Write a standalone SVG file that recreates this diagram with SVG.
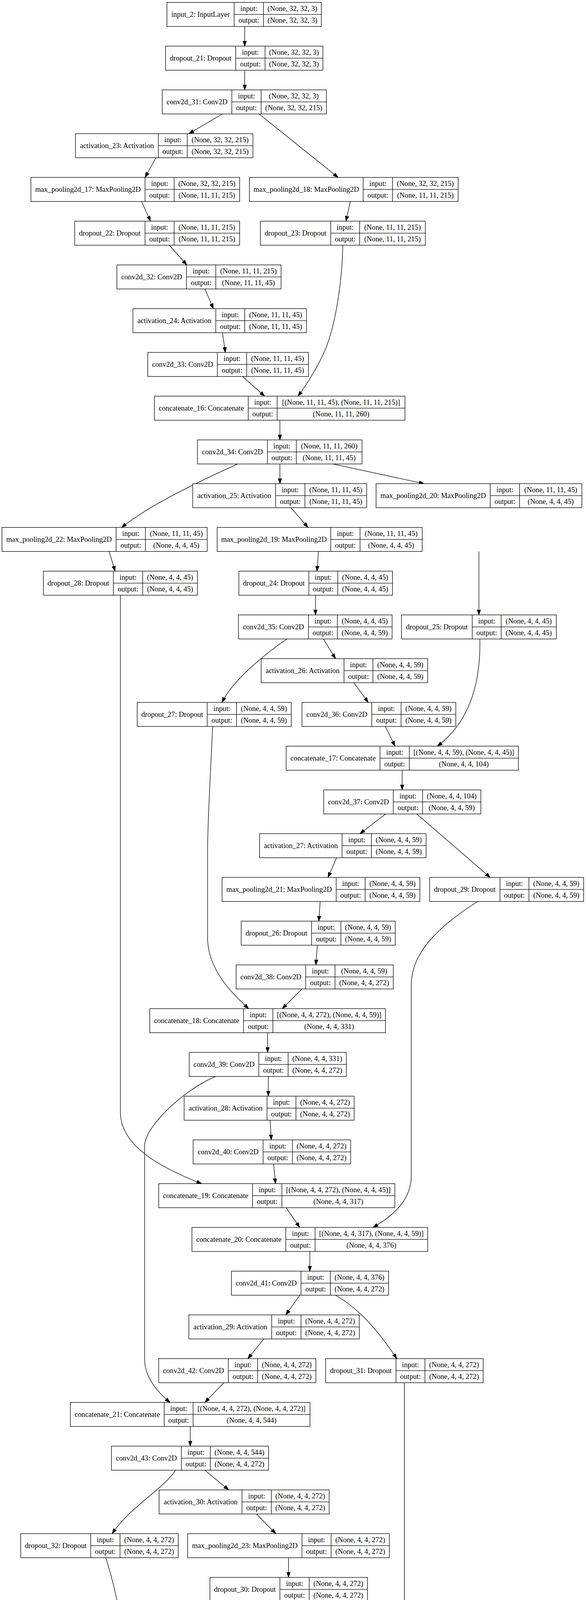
<svg xmlns="http://www.w3.org/2000/svg" width="1499" height="6347" viewBox="0 0 1499 6347">
<defs>
<marker id="ah" markerUnits="userSpaceOnUse" markerWidth="14" markerHeight="10" viewBox="0 0 14 10" refX="13.3" refY="5" orient="auto"><path d="M0,0.33 L13.3,5 L0,9.67 Z" fill="#000" stroke="#000" stroke-width="1"/></marker>
</defs>
<style>
.n rect{fill:#fff;stroke:#000;stroke-width:1.33}
.n path{fill:none;stroke:#000;stroke-width:1.33}
text{font-family:"Liberation Serif","Times New Roman",serif;font-size:18.67px;text-anchor:middle;fill:#000}
.e path{fill:none;stroke:#000;stroke-width:1.33;marker-end:url(#ah)}
</style>
<rect width="1499" height="6347" fill="#fff"/>
<g id="edges" class="e">
<path d="M626,67.7V118.2"/>
<path d="M626,179.7V230.2"/>
<path d="M569,291.7L483,342.2"/>
<path d="M662.5,291.7L865,454.2"/>
<path d="M399,403.7L371,454.2"/>
<path d="M362,515.7L385,566.2"/>
<path d="M896,515.7L885,566.2"/>
<path d="M433,627.7L478,678.2"/>
<path d="M524,739.7L546,790.2"/>
<path d="M569,851.7L576.5,902.2"/>
<path d="M620.5,963.7L677,1014.2"/>
<path d="M877,627.7C875,720 860,820 836,885C821.6,924 785,985 762,1014.2"/>
<path d="M716,1075.7V1126.2"/>
<path d="M608,1187.7C550,1215 400,1280 311,1350.2"/>
<path d="M716,1187.7V1238.2"/>
<path d="M851,1187.7L1085,1238.2"/>
<path d="M744,1299.7L788,1350.2"/>
<path d="M1225,1411.7V1574.2"/>
<path d="M279,1411.7L294.5,1462.2"/>
<path d="M814.5,1411.7L811,1462.2"/>
<path d="M807,1523.7V1574.2"/>
<path d="M308,1523.7V2850C310,2930 400,2985 516,3030.2"/>
<path d="M734,1635.7C690,1665 595,1740 568,1798.2"/>
<path d="M827,1635.7L858.5,1686.2"/>
<path d="M905,1747.7L942,1798.2"/>
<path d="M1227.5,1635.7C1230,1750 1200,1850 1118.5,1910.2"/>
<path d="M985.7,1859.7L1010.5,1910.2"/>
<path d="M1028.7,1971.7V2022.2"/>
<path d="M544,1859.7C538,1990 531,2100 531,2180V2400C531,2480 590,2540 636,2582.2"/>
<path d="M986.6,2083.7L920.6,2134.2"/>
<path d="M1066,2083.7L1254,2246.2"/>
<path d="M861,2195.7L839,2246.2"/>
<path d="M819,2307.7L815.5,2358.2"/>
<path d="M811.7,2419.7L808,2470.2"/>
<path d="M772.5,2531.7L722,2582.2"/>
<path d="M1222,2307.7C1140,2360 1052,2430 1052,2520V3010C1052,3070 1010,3110 954,3142.2"/>
<path d="M684.5,2643.7V2694.2"/>
<path d="M551.6,2755.7C470,2790 375,2880 370,2930V3480C370,3530 410,3570 435,3590.2"/>
<path d="M686.4,2755.7V2806.2"/>
<path d="M691,2867.7L694,2918.2"/>
<path d="M700,2979.7L704.6,3030.2"/>
<path d="M732,3091.7L766.7,3142.2"/>
<path d="M792.5,3203.7V3254.2"/>
<path d="M767,3315.7L731,3366.2"/>
<path d="M858.5,3315.7C900,3340 950,3380 1015,3478.2"/>
<path d="M675,3427.7L634,3478.2"/>
<path d="M572.7,3539.7L524,3590.2"/>
<path d="M486.6,3651.7V3702.2"/>
<path d="M1034.4,3539.7V4100C1034.4,4170 960,4220 865,4262.2"/>
<path d="M449.3,3763.7C420,3810 330,3860 287,3926.2"/>
<path d="M524,3763.7L585,3814.2"/>
<path d="M656,3875.7L705.5,3926.2"/>
<path d="M738,3987.7V4038.2"/>
<path d="M738,4099.7V4150.2"/>
<path d="M738,4211.7V4262.2"/>
<path d="M270.6,3987.7C300,4080 323,4200 324,4300V4540C326,4620 385,4670 416,4710.2"/>
<path d="M726.6,4323.7L711,4374.2"/>
<path d="M677,4435.7L645,4486.2"/>
<path d="M612,4547.7L600,4598.2"/>
<path d="M554.5,4659.7L496,4710.2"/>
<path d="M457,4771.7V4822.2"/>
<path d="M457,4883.7V4934.2"/>
<path d="M457,4995.7V5046.2"/>
<path d="M457,5107.7V5158.2"/>
<path d="M457,5219.7V5270.2"/>
<path d="M457,5331.7V5382.2"/>
<path d="M457,5443.7V5494.2"/>
<path d="M457,5555.7V5606.2"/>
<path d="M457,5667.7V5718.2"/>
<path d="M457,5779.7V5830.2"/>
<path d="M457,5891.7V5942.2"/>
<path d="M457,6003.7V6054.2"/>
<path d="M457,6115.7V6166.2"/>
<path d="M457,6227.7V6278.2"/>
</g>
<g id="input_2" class="n" transform="translate(427,6.2)"><rect width="395" height="61.5"/><path d="M172,0V61.5M247,0V61.5M172,30.75H395"/><text x="86" y="36.5">input_2: InputLayer</text><text x="209.5" y="21.5">input:</text><text x="209.5" y="52">output:</text><text x="321" y="21.5">(None, 32, 32, 3)</text><text x="321" y="52">(None, 32, 32, 3)</text></g>
<g id="dropout_21" class="n" transform="translate(423.5,118.2)"><rect width="402.5" height="61.5"/><path d="M179.5,0V61.5M254.5,0V61.5M179.5,30.75H402.5"/><text x="89.75" y="36.5">dropout_21: Dropout</text><text x="217" y="21.5">input:</text><text x="217" y="52">output:</text><text x="328.5" y="21.5">(None, 32, 32, 3)</text><text x="328.5" y="52">(None, 32, 32, 3)</text></g>
<g id="conv2d_31" class="n" transform="translate(415,230.2)"><rect width="420" height="61.5"/><path d="M178,0V61.5M253,0V61.5M178,30.75H420"/><text x="89" y="36.5">conv2d_31: Conv2D</text><text x="215.5" y="21.5">input:</text><text x="215.5" y="52">output:</text><text x="336.5" y="21.5">(None, 32, 32, 3)</text><text x="336.5" y="52">(None, 32, 32, 215)</text></g>
<g id="activation_23" class="n" transform="translate(193,342.2)"><rect width="454" height="61.5"/><path d="M212,0V61.5M286,0V61.5M212,30.75H454"/><text x="106" y="36.5">activation_23: Activation</text><text x="249" y="21.5">input:</text><text x="249" y="52">output:</text><text x="370" y="21.5">(None, 32, 32, 215)</text><text x="370" y="52">(None, 32, 32, 215)</text></g>
<g id="max_pooling2d_17" class="n" transform="translate(79,454.2)"><rect width="534" height="61.5"/><path d="M292,0V61.5M366.5,0V61.5M292,30.75H534"/><text x="146" y="36.5">max_pooling2d_17: MaxPooling2D</text><text x="329.25" y="21.5">input:</text><text x="329.25" y="52">output:</text><text x="450.25" y="21.5">(None, 32, 32, 215)</text><text x="450.25" y="52">(None, 11, 11, 215)</text></g>
<g id="max_pooling2d_18" class="n" transform="translate(638,454.2)"><rect width="534" height="61.5"/><path d="M291,0V61.5M366,0V61.5M291,30.75H534"/><text x="145.5" y="36.5">max_pooling2d_18: MaxPooling2D</text><text x="328.5" y="21.5">input:</text><text x="328.5" y="52">output:</text><text x="450" y="21.5">(None, 32, 32, 215)</text><text x="450" y="52">(None, 11, 11, 215)</text></g>
<g id="dropout_22" class="n" transform="translate(191,566.2)"><rect width="422" height="61.5"/><path d="M180,0V61.5M254.5,0V61.5M180,30.75H422"/><text x="90" y="36.5">dropout_22: Dropout</text><text x="217.25" y="21.5">input:</text><text x="217.25" y="52">output:</text><text x="338.25" y="21.5">(None, 11, 11, 215)</text><text x="338.25" y="52">(None, 11, 11, 215)</text></g>
<g id="dropout_23" class="n" transform="translate(666,566.2)"><rect width="422" height="61.5"/><path d="M180,0V61.5M254,0V61.5M180,30.75H422"/><text x="90" y="36.5">dropout_23: Dropout</text><text x="217" y="21.5">input:</text><text x="217" y="52">output:</text><text x="338" y="21.5">(None, 11, 11, 215)</text><text x="338" y="52">(None, 11, 11, 215)</text></g>
<g id="conv2d_32" class="n" transform="translate(299,678.2)"><rect width="420" height="61.5"/><path d="M178,0V61.5M253,0V61.5M178,30.75H420"/><text x="89" y="36.5">conv2d_32: Conv2D</text><text x="215.5" y="21.5">input:</text><text x="215.5" y="52">output:</text><text x="336.5" y="21.5">(None, 11, 11, 215)</text><text x="336.5" y="52">(None, 11, 11, 45)</text></g>
<g id="activation_24" class="n" transform="translate(340,790.2)"><rect width="444" height="61.5"/><path d="M212,0V61.5M286,0V61.5M212,30.75H444"/><text x="106" y="36.5">activation_24: Activation</text><text x="249" y="21.5">input:</text><text x="249" y="52">output:</text><text x="365" y="21.5">(None, 11, 11, 45)</text><text x="365" y="52">(None, 11, 11, 45)</text></g>
<g id="conv2d_33" class="n" transform="translate(378,902.2)"><rect width="411" height="61.5"/><path d="M178,0V61.5M253,0V61.5M178,30.75H411"/><text x="89" y="36.5">conv2d_33: Conv2D</text><text x="215.5" y="21.5">input:</text><text x="215.5" y="52">output:</text><text x="332" y="21.5">(None, 11, 11, 45)</text><text x="332" y="52">(None, 11, 11, 45)</text></g>
<g id="concatenate_16" class="n" transform="translate(395,1014.2)"><rect width="641" height="61.5"/><path d="M240,0V61.5M314,0V61.5M240,30.75H641"/><text x="120" y="36.5">concatenate_16: Concatenate</text><text x="277" y="21.5">input:</text><text x="277" y="52">output:</text><text x="477.5" y="21.5">[(None, 11, 11, 45), (None, 11, 11, 215)]</text><text x="477.5" y="52">(None, 11, 11, 260)</text></g>
<g id="conv2d_34" class="n" transform="translate(505,1126.2)"><rect width="421" height="61.5"/><path d="M179,0V61.5M253,0V61.5M179,30.75H421"/><text x="89.5" y="36.5">conv2d_34: Conv2D</text><text x="216" y="21.5">input:</text><text x="216" y="52">output:</text><text x="337" y="21.5">(None, 11, 11, 260)</text><text x="337" y="52">(None, 11, 11, 45)</text></g>
<g id="activation_25" class="n" transform="translate(493,1238.2)"><rect width="445" height="61.5"/><path d="M212,0V61.5M287,0V61.5M212,30.75H445"/><text x="106" y="36.5">activation_25: Activation</text><text x="249.5" y="21.5">input:</text><text x="249.5" y="52">output:</text><text x="366" y="21.5">(None, 11, 11, 45)</text><text x="366" y="52">(None, 11, 11, 45)</text></g>
<g id="max_pooling2d_20" class="n" transform="translate(962,1238.2)"><rect width="526.5" height="61.5"/><path d="M292,0V61.5M367,0V61.5M292,30.75H526.5"/><text x="146" y="36.5">max_pooling2d_20: MaxPooling2D</text><text x="329.5" y="21.5">input:</text><text x="329.5" y="52">output:</text><text x="446.75" y="21.5">(None, 11, 11, 45)</text><text x="446.75" y="52">(None, 4, 4, 45)</text></g>
<g id="max_pooling2d_22" class="n" transform="translate(5,1350.2)"><rect width="525" height="61.5"/><path d="M292,0V61.5M367,0V61.5M292,30.75H525"/><text x="146" y="36.5">max_pooling2d_22: MaxPooling2D</text><text x="329.5" y="21.5">input:</text><text x="329.5" y="52">output:</text><text x="446" y="21.5">(None, 11, 11, 45)</text><text x="446" y="52">(None, 4, 4, 45)</text></g>
<g id="max_pooling2d_19" class="n" transform="translate(555.5,1350.2)"><rect width="524.5" height="61.5"/><path d="M290.5,0V61.5M365.5,0V61.5M290.5,30.75H524.5"/><text x="145.25" y="36.5">max_pooling2d_19: MaxPooling2D</text><text x="328" y="21.5">input:</text><text x="328" y="52">output:</text><text x="445" y="21.5">(None, 11, 11, 45)</text><text x="445" y="52">(None, 4, 4, 45)</text></g>
<g id="dropout_28" class="n" transform="translate(111,1462.2)"><rect width="394" height="61.5"/><path d="M179,0V61.5M254,0V61.5M179,30.75H394"/><text x="89.5" y="36.5">dropout_28: Dropout</text><text x="216.5" y="21.5">input:</text><text x="216.5" y="52">output:</text><text x="324" y="21.5">(None, 4, 4, 45)</text><text x="324" y="52">(None, 4, 4, 45)</text></g>
<g id="dropout_24" class="n" transform="translate(611,1462.2)"><rect width="393" height="61.5"/><path d="M179,0V61.5M253,0V61.5M179,30.75H393"/><text x="89.5" y="36.5">dropout_24: Dropout</text><text x="216" y="21.5">input:</text><text x="216" y="52">output:</text><text x="323" y="21.5">(None, 4, 4, 45)</text><text x="323" y="52">(None, 4, 4, 45)</text></g>
<g id="conv2d_35" class="n" transform="translate(610,1574.2)"><rect width="393" height="61.5"/><path d="M179,0V61.5M253,0V61.5M179,30.75H393"/><text x="89.5" y="36.5">conv2d_35: Conv2D</text><text x="216" y="21.5">input:</text><text x="216" y="52">output:</text><text x="323" y="21.5">(None, 4, 4, 45)</text><text x="323" y="52">(None, 4, 4, 59)</text></g>
<g id="dropout_25" class="n" transform="translate(1027,1574.2)"><rect width="396" height="61.5"/><path d="M181,0V61.5M255,0V61.5M181,30.75H396"/><text x="90.5" y="36.5">dropout_25: Dropout</text><text x="218" y="21.5">input:</text><text x="218" y="52">output:</text><text x="325.5" y="21.5">(None, 4, 4, 45)</text><text x="325.5" y="52">(None, 4, 4, 45)</text></g>
<g id="activation_26" class="n" transform="translate(668,1686.2)"><rect width="426" height="61.5"/><path d="M212,0V61.5M286,0V61.5M212,30.75H426"/><text x="106" y="36.5">activation_26: Activation</text><text x="249" y="21.5">input:</text><text x="249" y="52">output:</text><text x="356" y="21.5">(None, 4, 4, 59)</text><text x="356" y="52">(None, 4, 4, 59)</text></g>
<g id="dropout_27" class="n" transform="translate(351,1798.2)"><rect width="394" height="61.5"/><path d="M179,0V61.5M254,0V61.5M179,30.75H394"/><text x="89.5" y="36.5">dropout_27: Dropout</text><text x="216.5" y="21.5">input:</text><text x="216.5" y="52">output:</text><text x="324" y="21.5">(None, 4, 4, 59)</text><text x="324" y="52">(None, 4, 4, 59)</text></g>
<g id="conv2d_36" class="n" transform="translate(772.5,1798.2)"><rect width="393.5" height="61.5"/><path d="M178.5,0V61.5M253.5,0V61.5M178.5,30.75H393.5"/><text x="89.25" y="36.5">conv2d_36: Conv2D</text><text x="216" y="21.5">input:</text><text x="216" y="52">output:</text><text x="323.5" y="21.5">(None, 4, 4, 59)</text><text x="323.5" y="52">(None, 4, 4, 59)</text></g>
<g id="concatenate_17" class="n" transform="translate(732,1910.2)"><rect width="594" height="61.5"/><path d="M240,0V61.5M315,0V61.5M240,30.75H594"/><text x="120" y="36.5">concatenate_17: Concatenate</text><text x="277.5" y="21.5">input:</text><text x="277.5" y="52">output:</text><text x="454.5" y="21.5">[(None, 4, 4, 59), (None, 4, 4, 45)]</text><text x="454.5" y="52">(None, 4, 4, 104)</text></g>
<g id="conv2d_37" class="n" transform="translate(828,2022.2)"><rect width="402" height="61.5"/><path d="M178,0V61.5M253,0V61.5M178,30.75H402"/><text x="89" y="36.5">conv2d_37: Conv2D</text><text x="215.5" y="21.5">input:</text><text x="215.5" y="52">output:</text><text x="327.5" y="21.5">(None, 4, 4, 104)</text><text x="327.5" y="52">(None, 4, 4, 59)</text></g>
<g id="activation_27" class="n" transform="translate(664,2134.2)"><rect width="426" height="61.5"/><path d="M211,0V61.5M286,0V61.5M211,30.75H426"/><text x="105.5" y="36.5">activation_27: Activation</text><text x="248.5" y="21.5">input:</text><text x="248.5" y="52">output:</text><text x="356" y="21.5">(None, 4, 4, 59)</text><text x="356" y="52">(None, 4, 4, 59)</text></g>
<g id="max_pooling2d_21" class="n" transform="translate(568,2246.2)"><rect width="506" height="61.5"/><path d="M292,0V61.5M366,0V61.5M292,30.75H506"/><text x="146" y="36.5">max_pooling2d_21: MaxPooling2D</text><text x="329" y="21.5">input:</text><text x="329" y="52">output:</text><text x="436" y="21.5">(None, 4, 4, 59)</text><text x="436" y="52">(None, 4, 4, 59)</text></g>
<g id="dropout_29" class="n" transform="translate(1099,2246.2)"><rect width="394" height="61.5"/><path d="M180,0V61.5M254,0V61.5M180,30.75H394"/><text x="90" y="36.5">dropout_29: Dropout</text><text x="217" y="21.5">input:</text><text x="217" y="52">output:</text><text x="324" y="21.5">(None, 4, 4, 59)</text><text x="324" y="52">(None, 4, 4, 59)</text></g>
<g id="dropout_26" class="n" transform="translate(617,2358.2)"><rect width="394" height="61.5"/><path d="M180,0V61.5M255,0V61.5M180,30.75H394"/><text x="90" y="36.5">dropout_26: Dropout</text><text x="217.5" y="21.5">input:</text><text x="217.5" y="52">output:</text><text x="324.5" y="21.5">(None, 4, 4, 59)</text><text x="324.5" y="52">(None, 4, 4, 59)</text></g>
<g id="conv2d_38" class="n" transform="translate(604,2470.2)"><rect width="402" height="61.5"/><path d="M178,0V61.5M253,0V61.5M178,30.75H402"/><text x="89" y="36.5">conv2d_38: Conv2D</text><text x="215.5" y="21.5">input:</text><text x="215.5" y="52">output:</text><text x="327.5" y="21.5">(None, 4, 4, 59)</text><text x="327.5" y="52">(None, 4, 4, 272)</text></g>
<g id="concatenate_18" class="n" transform="translate(383,2582.2)"><rect width="603" height="61.5"/><path d="M240,0V61.5M315,0V61.5M240,30.75H603"/><text x="120" y="36.5">concatenate_18: Concatenate</text><text x="277.5" y="21.5">input:</text><text x="277.5" y="52">output:</text><text x="459" y="21.5">[(None, 4, 4, 272), (None, 4, 4, 59)]</text><text x="459" y="52">(None, 4, 4, 331)</text></g>
<g id="conv2d_39" class="n" transform="translate(484,2694.2)"><rect width="402" height="61.5"/><path d="M178,0V61.5M253,0V61.5M178,30.75H402"/><text x="89" y="36.5">conv2d_39: Conv2D</text><text x="215.5" y="21.5">input:</text><text x="215.5" y="52">output:</text><text x="327.5" y="21.5">(None, 4, 4, 331)</text><text x="327.5" y="52">(None, 4, 4, 272)</text></g>
<g id="activation_28" class="n" transform="translate(471,2806.2)"><rect width="435" height="61.5"/><path d="M212,0V61.5M286,0V61.5M212,30.75H435"/><text x="106" y="36.5">activation_28: Activation</text><text x="249" y="21.5">input:</text><text x="249" y="52">output:</text><text x="360.5" y="21.5">(None, 4, 4, 272)</text><text x="360.5" y="52">(None, 4, 4, 272)</text></g>
<g id="conv2d_40" class="n" transform="translate(494,2918.2)"><rect width="403" height="61.5"/><path d="M179,0V61.5M254,0V61.5M179,30.75H403"/><text x="89.5" y="36.5">conv2d_40: Conv2D</text><text x="216.5" y="21.5">input:</text><text x="216.5" y="52">output:</text><text x="328.5" y="21.5">(None, 4, 4, 272)</text><text x="328.5" y="52">(None, 4, 4, 272)</text></g>
<g id="concatenate_19" class="n" transform="translate(406,3030.2)"><rect width="604" height="61.5"/><path d="M240,0V61.5M315,0V61.5M240,30.75H604"/><text x="120" y="36.5">concatenate_19: Concatenate</text><text x="277.5" y="21.5">input:</text><text x="277.5" y="52">output:</text><text x="459.5" y="21.5">[(None, 4, 4, 272), (None, 4, 4, 45)]</text><text x="459.5" y="52">(None, 4, 4, 317)</text></g>
<g id="concatenate_20" class="n" transform="translate(491,3142.2)"><rect width="603" height="61.5"/><path d="M240,0V61.5M315,0V61.5M240,30.75H603"/><text x="120" y="36.5">concatenate_20: Concatenate</text><text x="277.5" y="21.5">input:</text><text x="277.5" y="52">output:</text><text x="459" y="21.5">[(None, 4, 4, 317), (None, 4, 4, 59)]</text><text x="459" y="52">(None, 4, 4, 376)</text></g>
<g id="conv2d_41" class="n" transform="translate(592,3254.2)"><rect width="402" height="61.5"/><path d="M178,0V61.5M253,0V61.5M178,30.75H402"/><text x="89" y="36.5">conv2d_41: Conv2D</text><text x="215.5" y="21.5">input:</text><text x="215.5" y="52">output:</text><text x="327.5" y="21.5">(None, 4, 4, 376)</text><text x="327.5" y="52">(None, 4, 4, 272)</text></g>
<g id="activation_29" class="n" transform="translate(483,3366.2)"><rect width="436" height="61.5"/><path d="M212,0V61.5M287,0V61.5M212,30.75H436"/><text x="106" y="36.5">activation_29: Activation</text><text x="249.5" y="21.5">input:</text><text x="249.5" y="52">output:</text><text x="361.5" y="21.5">(None, 4, 4, 272)</text><text x="361.5" y="52">(None, 4, 4, 272)</text></g>
<g id="conv2d_42" class="n" transform="translate(406,3478.2)"><rect width="402" height="61.5"/><path d="M178,0V61.5M253,0V61.5M178,30.75H402"/><text x="89" y="36.5">conv2d_42: Conv2D</text><text x="215.5" y="21.5">input:</text><text x="215.5" y="52">output:</text><text x="327.5" y="21.5">(None, 4, 4, 272)</text><text x="327.5" y="52">(None, 4, 4, 272)</text></g>
<g id="dropout_31" class="n" transform="translate(833,3478.2)"><rect width="403" height="61.5"/><path d="M180,0V61.5M254,0V61.5M180,30.75H403"/><text x="90" y="36.5">dropout_31: Dropout</text><text x="217" y="21.5">input:</text><text x="217" y="52">output:</text><text x="328.5" y="21.5">(None, 4, 4, 272)</text><text x="328.5" y="52">(None, 4, 4, 272)</text></g>
<g id="concatenate_21" class="n" transform="translate(180,3590.2)"><rect width="613" height="61.5"/><path d="M240,0V61.5M314,0V61.5M240,30.75H613"/><text x="120" y="36.5">concatenate_21: Concatenate</text><text x="277" y="21.5">input:</text><text x="277" y="52">output:</text><text x="463.5" y="21.5">[(None, 4, 4, 272), (None, 4, 4, 272)]</text><text x="463.5" y="52">(None, 4, 4, 544)</text></g>
<g id="conv2d_43" class="n" transform="translate(285,3702.2)"><rect width="402" height="61.5"/><path d="M179,0V61.5M253,0V61.5M179,30.75H402"/><text x="89.5" y="36.5">conv2d_43: Conv2D</text><text x="216" y="21.5">input:</text><text x="216" y="52">output:</text><text x="327.5" y="21.5">(None, 4, 4, 544)</text><text x="327.5" y="52">(None, 4, 4, 272)</text></g>
<g id="activation_30" class="n" transform="translate(407,3814.2)"><rect width="435" height="61.5"/><path d="M212,0V61.5M287,0V61.5M212,30.75H435"/><text x="106" y="36.5">activation_30: Activation</text><text x="249.5" y="21.5">input:</text><text x="249.5" y="52">output:</text><text x="361" y="21.5">(None, 4, 4, 272)</text><text x="361" y="52">(None, 4, 4, 272)</text></g>
<g id="dropout_32" class="n" transform="translate(53,3926.2)"><rect width="403" height="61.5"/><path d="M179,0V61.5M254,0V61.5M179,30.75H403"/><text x="89.5" y="36.5">dropout_32: Dropout</text><text x="216.5" y="21.5">input:</text><text x="216.5" y="52">output:</text><text x="328.5" y="21.5">(None, 4, 4, 272)</text><text x="328.5" y="52">(None, 4, 4, 272)</text></g>
<g id="max_pooling2d_23" class="n" transform="translate(480,3926.2)"><rect width="516" height="61.5"/><path d="M292.5,0V61.5M367,0V61.5M292.5,30.75H516"/><text x="146.25" y="36.5">max_pooling2d_23: MaxPooling2D</text><text x="329.75" y="21.5">input:</text><text x="329.75" y="52">output:</text><text x="441.5" y="21.5">(None, 4, 4, 272)</text><text x="441.5" y="52">(None, 4, 4, 272)</text></g>
<g id="dropout_30" class="n" transform="translate(537,4038.2)"><rect width="403" height="61.5"/><path d="M179,0V61.5M254,0V61.5M179,30.75H403"/><text x="89.5" y="36.5">dropout_30: Dropout</text><text x="216.5" y="21.5">input:</text><text x="216.5" y="52">output:</text><text x="328.5" y="21.5">(None, 4, 4, 272)</text><text x="328.5" y="52">(None, 4, 4, 272)</text></g>
<g id="conv2d_44" class="n" transform="translate(537,4150.2)"><rect width="403" height="61.5"/><path d="M178,0V61.5M253,0V61.5M178,30.75H403"/><text x="89" y="36.5">conv2d_44: Conv2D</text><text x="215.5" y="21.5">input:</text><text x="215.5" y="52">output:</text><text x="328" y="21.5">(None, 4, 4, 272)</text><text x="328" y="52">(None, 4, 4, 383)</text></g>
<g id="concatenate_22" class="n" transform="translate(432,4262.2)"><rect width="612" height="61.5"/><path d="M240,0V61.5M314,0V61.5M240,30.75H612"/><text x="120" y="36.5">concatenate_22: Concatenate</text><text x="277" y="21.5">input:</text><text x="277" y="52">output:</text><text x="463" y="21.5">[(None, 4, 4, 383), (None, 4, 4, 272)]</text><text x="463" y="52">(None, 4, 4, 655)</text></g>
<g id="conv2d_45" class="n" transform="translate(497,4374.2)"><rect width="402" height="61.5"/><path d="M178,0V61.5M254,0V61.5M178,30.75H402"/><text x="89" y="36.5">conv2d_45: Conv2D</text><text x="216" y="21.5">input:</text><text x="216" y="52">output:</text><text x="328" y="21.5">(None, 4, 4, 655)</text><text x="328" y="52">(None, 4, 4, 383)</text></g>
<g id="activation_31" class="n" transform="translate(401.5,4486.2)"><rect width="436" height="61.5"/><path d="M211.5,0V61.5M286.5,0V61.5M211.5,30.75H436"/><text x="105.75" y="36.5">activation_31: Activation</text><text x="249" y="21.5">input:</text><text x="249" y="52">output:</text><text x="361.25" y="21.5">(None, 4, 4, 383)</text><text x="361.25" y="52">(None, 4, 4, 383)</text></g>
<g id="conv2d_46" class="n" transform="translate(389,4598.2)"><rect width="403" height="61.5"/><path d="M178,0V61.5M253,0V61.5M178,30.75H403"/><text x="89" y="36.5">conv2d_46: Conv2D</text><text x="215.5" y="21.5">input:</text><text x="215.5" y="52">output:</text><text x="328" y="21.5">(None, 4, 4, 383)</text><text x="328" y="52">(None, 4, 4, 383)</text></g>
<g id="concatenate_23" class="n" transform="translate(151,4710.2)"><rect width="612" height="61.5"/><path d="M239,0V61.5M314,0V61.5M239,30.75H612"/><text x="119.5" y="36.5">concatenate_23: Concatenate</text><text x="276.5" y="21.5">input:</text><text x="276.5" y="52">output:</text><text x="463" y="21.5">[(None, 4, 4, 383), (None, 4, 4, 272)]</text><text x="463" y="52">(None, 4, 4, 655)</text></g>
<g id="conv2d_47" class="n" transform="translate(256,4822.2)"><rect width="402" height="61.5"/><path d="M178,0V61.5M253,0V61.5M178,30.75H402"/><text x="89" y="36.5">conv2d_47: Conv2D</text><text x="215.5" y="21.5">input:</text><text x="215.5" y="52">output:</text><text x="327.5" y="21.5">(None, 4, 4, 655)</text><text x="327.5" y="52">(None, 4, 4, 383)</text></g>
<g id="activation_32" class="n" transform="translate(239,4934.2)"><rect width="436" height="61.5"/><path d="M211,0V61.5M286,0V61.5M211,30.75H436"/><text x="105.5" y="36.5">activation_32: Activation</text><text x="248.5" y="21.5">input:</text><text x="248.5" y="52">output:</text><text x="361" y="21.5">(None, 4, 4, 383)</text><text x="361" y="52">(None, 4, 4, 383)</text></g>
<g id="max_pooling2d_24" class="n" transform="translate(199,5046.2)"><rect width="516" height="61.5"/><path d="M292,0V61.5M367,0V61.5M292,30.75H516"/><text x="146" y="36.5">max_pooling2d_24: MaxPooling2D</text><text x="329.5" y="21.5">input:</text><text x="329.5" y="52">output:</text><text x="441.5" y="21.5">(None, 4, 4, 383)</text><text x="441.5" y="52">(None, 2, 2, 383)</text></g>
<g id="dropout_33" class="n" transform="translate(255,5158.2)"><rect width="404" height="61.5"/><path d="M180,0V61.5M255,0V61.5M180,30.75H404"/><text x="90" y="36.5">dropout_33: Dropout</text><text x="217.5" y="21.5">input:</text><text x="217.5" y="52">output:</text><text x="329.5" y="21.5">(None, 2, 2, 383)</text><text x="329.5" y="52">(None, 2, 2, 383)</text></g>
<g id="global_average_pooling2d_1" class="n" transform="translate(123,5270.2)"><rect width="668" height="61.5"/><path d="M444,0V61.5M518.5,0V61.5M444,30.75H668"/><text x="222" y="36.5">global_average_pooling2d_1: GlobalAveragePooling2D</text><text x="481.25" y="21.5">input:</text><text x="481.25" y="52">output:</text><text x="593.25" y="21.5">(None, 2, 2, 383)</text><text x="593.25" y="52">(None, 383)</text></g>
<g id="dropout_34" class="n" transform="translate(274,5382.2)"><rect width="366" height="61.5"/><path d="M180,0V61.5M255,0V61.5M180,30.75H366"/><text x="90" y="36.5">dropout_34: Dropout</text><text x="217.5" y="21.5">input:</text><text x="217.5" y="52">output:</text><text x="310.5" y="21.5">(None, 383)</text><text x="310.5" y="52">(None, 383)</text></g>
<g id="dense_4" class="n" transform="translate(293.5,5494.2)"><rect width="327" height="61.5"/><path d="M140.5,0V61.5M215.5,0V61.5M140.5,30.75H327"/><text x="70.25" y="36.5">dense_4: Dense</text><text x="178" y="21.5">input:</text><text x="178" y="52">output:</text><text x="271.25" y="21.5">(None, 383)</text><text x="271.25" y="52">(None, 277)</text></g>
<g id="activation_33" class="n" transform="translate(258,5606.2)"><rect width="398" height="61.5"/><path d="M212,0V61.5M286,0V61.5M212,30.75H398"/><text x="106" y="36.5">activation_33: Activation</text><text x="249" y="21.5">input:</text><text x="249" y="52">output:</text><text x="342" y="21.5">(None, 277)</text><text x="342" y="52">(None, 277)</text></g>
<g id="dropout_35" class="n" transform="translate(274,5718.2)"><rect width="366" height="61.5"/><path d="M180,0V61.5M255,0V61.5M180,30.75H366"/><text x="90" y="36.5">dropout_35: Dropout</text><text x="217.5" y="21.5">input:</text><text x="217.5" y="52">output:</text><text x="310.5" y="21.5">(None, 277)</text><text x="310.5" y="52">(None, 277)</text></g>
<g id="dense_5" class="n" transform="translate(293.5,5830.2)"><rect width="327" height="61.5"/><path d="M140.5,0V61.5M215.5,0V61.5M140.5,30.75H327"/><text x="70.25" y="36.5">dense_5: Dense</text><text x="178" y="21.5">input:</text><text x="178" y="52">output:</text><text x="271.25" y="21.5">(None, 277)</text><text x="271.25" y="52">(None, 641)</text></g>
<g id="activation_34" class="n" transform="translate(258,5942.2)"><rect width="398" height="61.5"/><path d="M212,0V61.5M286,0V61.5M212,30.75H398"/><text x="106" y="36.5">activation_34: Activation</text><text x="249" y="21.5">input:</text><text x="249" y="52">output:</text><text x="342" y="21.5">(None, 641)</text><text x="342" y="52">(None, 641)</text></g>
<g id="dropout_36" class="n" transform="translate(274,6054.2)"><rect width="366" height="61.5"/><path d="M180,0V61.5M255,0V61.5M180,30.75H366"/><text x="90" y="36.5">dropout_36: Dropout</text><text x="217.5" y="21.5">input:</text><text x="217.5" y="52">output:</text><text x="310.5" y="21.5">(None, 641)</text><text x="310.5" y="52">(None, 641)</text></g>
<g id="dense_6" class="n" transform="translate(293.5,6166.2)"><rect width="327" height="61.5"/><path d="M140.5,0V61.5M215.5,0V61.5M140.5,30.75H327"/><text x="70.25" y="36.5">dense_6: Dense</text><text x="178" y="21.5">input:</text><text x="178" y="52">output:</text><text x="271.25" y="21.5">(None, 641)</text><text x="271.25" y="52">(None, 10)</text></g>
<g id="activation_35" class="n" transform="translate(263,6278.2)"><rect width="388" height="61.5"/><path d="M212,0V61.5M286,0V61.5M212,30.75H388"/><text x="106" y="36.5">activation_35: Activation</text><text x="249" y="21.5">input:</text><text x="249" y="52">output:</text><text x="337" y="21.5">(None, 10)</text><text x="337" y="52">(None, 10)</text></g>
</svg>
